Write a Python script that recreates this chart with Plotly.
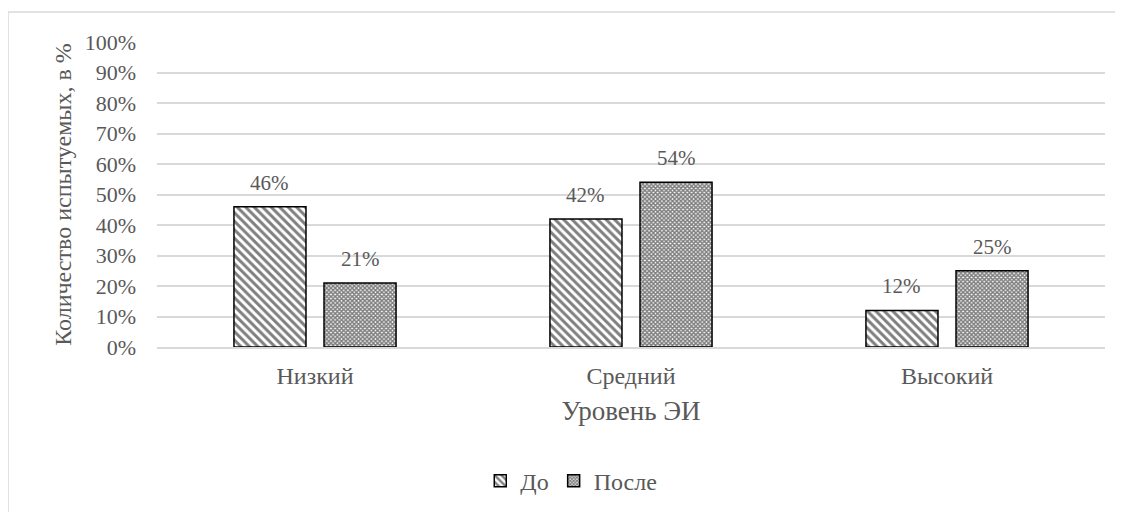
import plotly.graph_objects as go

categories = ["Низкий", "Средний", "Высокий"]
before = [46, 42, 12]
after = [21, 54, 25]
series_names = ["До", "После"]
y_ticks = list(range(0, 101, 10))
y_ticklabels = [f"{v}%" for v in y_ticks]

# page body has an 8px margin, so the figure is drawn at (8, 8)
W, H = 1115, 504
ml, mr, mt, mb = 149, 18, 34, 165
pw, ph = W - ml - mr, H - mt - mb
font = "Times New Roman, Liberation Serif, serif"
gray = "#595959"

fig = go.Figure()
fig.add_trace(go.Bar(
    x=categories, y=before, name=series_names[0],
    marker=dict(color="white", line=dict(color="black", width=1.5),
                pattern=dict(shape="\\", fgcolor="black", bgcolor="white", size=6, solidity=0.5)),
))
fig.add_trace(go.Bar(
    x=categories, y=after, name=series_names[1],
    marker=dict(color="white", line=dict(color="black", width=1.5),
                pattern=dict(shape="x", fgcolor="black", bgcolor="white", size=3, solidity=0.75)),
))

slot = pw / 3 * (1 - 0.43) / 2
for vals, sign in ((before, -1), (after, 1)):
    for c, v in zip(categories, vals):
        fig.add_annotation(x=c, y=v, text=f"{v}%", showarrow=False, xshift=sign * slot / 2,
                           yshift=24, font=dict(family=font, size=21, color=gray))

fig.update_layout(
    width=W, height=H,
    margin=dict(l=ml, r=mr, t=mt, b=mb, autoexpand=False),
    paper_bgcolor="white", plot_bgcolor="white",
    barmode="group", bargap=0.43, bargroupgap=0.2,
    font=dict(family=font, color=gray, size=21),
    showlegend=True,
    legend=dict(orientation="h", x=0.437, xanchor="center", y=-0.44, yanchor="middle",
                font=dict(family=font, size=24, color=gray), bgcolor="rgba(0,0,0,0)",
                itemwidth=30, traceorder="normal"),
    xaxis=dict(showgrid=False, showline=True, linecolor="#d9d9d9", linewidth=1.5, automargin=False,
               ticks="", ticklabelstandoff=6, tickfont=dict(family=font, size=24, color=gray),
               title=dict(text="Уровень ЭИ", font=dict(family=font, size=27, color=gray), standoff=14)),
    yaxis=dict(range=[0, 100], tickvals=y_ticks, ticktext=y_ticklabels, automargin=False,
               showgrid=True, gridcolor="#d9d9d9", gridwidth=1.5, zeroline=False,
               showline=False, ticks="", ticklabelstandoff=20,
               tickfont=dict(family=font, size=22, color=gray),
               title=dict(text="Количество испытуемых, в %", font=dict(family=font, size=24, color=gray), standoff=6)),
    shapes=[dict(type="rect", xref="paper", yref="paper",
                 x0=(0 - ml) / pw, x1=(W + 5 - ml) / pw,
                 y0=(-5 - mb) / ph, y1=(H - 4 - mb) / ph,
                 line=dict(color="#d9d9d9", width=1.5), fillcolor="rgba(0,0,0,0)", layer="below")],
)
fig.write_html("out.html")
